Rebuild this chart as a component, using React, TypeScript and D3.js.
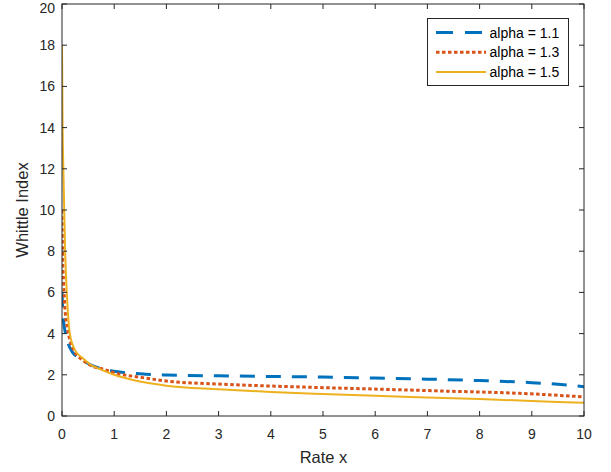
import React from "react";
import * as d3 from "d3";

const xTicks = [0, 1, 2, 3, 4, 5, 6, 7, 8, 9, 10];
const yTicks = [0, 2, 4, 6, 8, 10, 12, 14, 16, 18, 20];

const x11 = [0, 0.01, 0.03, 0.06, 0.12, 0.2, 0.35, 0.5, 0.66, 0.85, 1.07, 1.6, 2, 3, 4, 5, 6, 7, 8, 9, 9.5, 10];
const y11 = [6.0, 5.3, 4.6, 4.1, 3.5, 3.1, 2.8, 2.55, 2.37, 2.25, 2.15, 2.03, 1.99, 1.95, 1.92, 1.89, 1.84, 1.79, 1.72, 1.62, 1.54, 1.42];

const x13 = [0, 0.01, 0.03, 0.06, 0.1, 0.15, 0.25, 0.4, 0.6, 0.82, 1.0, 1.5, 2.07, 3, 4.43, 5.96, 7.18, 8.77, 10];
const y13 = [10, 8.0, 6.5, 5.1, 4.3, 3.7, 3.1, 2.7, 2.4, 2.25, 2.1, 1.88, 1.68, 1.55, 1.42, 1.31, 1.22, 1.1, 0.93];

const x15 = [0, 0.01, 0.03, 0.06, 0.1, 0.15, 0.25, 0.4, 0.54, 0.75, 1.0, 1.4, 2, 3, 4, 5, 6, 7, 8, 9, 10];
const y15 = [18, 14.5, 11.5, 8.0, 5.6, 4.0, 3.2, 2.8, 2.5, 2.25, 2.0, 1.72, 1.47, 1.3, 1.17, 1.07, 0.98, 0.9, 0.82, 0.73, 0.64];

const labels = ["alpha = 1.1", "alpha = 1.3", "alpha = 1.5"];
const colors = ["#0072BD", "#D95319", "#EDB120"];
const dashes = ["15,11", "3.5,2.5", ""];
const widths = [3, 3, 2];

const W = 611, H = 472;
const L = 62, R = 584, T = 4, B = 416;
const axisColor = "#262626";
const font = "'Liberation Sans', Arial, Helvetica, sans-serif";

export default function App() {
  const x = d3.scaleLinear().domain([0, 10]).range([L, R]);
  const y = d3.scaleLinear().domain([0, 20]).range([B, T]);
  const series = [
    x11.map((v, i) => [v, y11[i]] as [number, number]),
    x13.map((v, i) => [v, y13[i]] as [number, number]),
    x15.map((v, i) => [v, y15[i]] as [number, number]),
  ];
  const line = d3
    .line<[number, number]>()
    .x((d) => x(d[0]))
    .y((d) => y(d[1]))
    .curve(d3.curveMonotoneX);
  const tl = 5;
  const lgX = 427.5, lgY = 18.5, lgW = 141, lgH = 67;
  return (
    <svg
      width={W}
      height={H}
      style={{ position: "absolute", left: 0, top: 0, background: "#fff" }}
      fontFamily={font}
    >
      <rect x={0} y={0} width={W} height={H} fill="#fff" />
      <defs>
        <clipPath id="plot">
          <rect x={L} y={T} width={R - L} height={B - T} />
        </clipPath>
      </defs>
      <g clipPath="url(#plot)">
        {series.map((s, i) => (
          <path
            key={i}
            d={line(s) || ""}
            fill="none"
            stroke={colors[i]}
            strokeWidth={widths[i]}
            strokeDasharray={dashes[i] || undefined}
          />
        ))}
      </g>
      <rect x={L} y={T} width={R - L} height={B - T} fill="none" stroke={axisColor} strokeWidth={1} />
      {xTicks.map((t) => (
        <g key={"x" + t}>
          <line x1={x(t)} x2={x(t)} y1={B} y2={B - tl} stroke={axisColor} />
          <line x1={x(t)} x2={x(t)} y1={T} y2={T + tl} stroke={axisColor} />
          <text x={x(t)} y={439} textAnchor="middle" fontSize={14} fill={axisColor}>
            {t}
          </text>
        </g>
      ))}
      {yTicks.map((t) => (
        <g key={"y" + t}>
          <line x1={L} x2={L + tl} y1={y(t)} y2={y(t)} stroke={axisColor} />
          <line x1={R} x2={R - tl} y1={y(t)} y2={y(t)} stroke={axisColor} />
          <text x={L - 7} y={Math.max(y(t), 7.5)} dy="0.36em" textAnchor="end" fontSize={14} fill={axisColor}>
            {t}
          </text>
        </g>
      ))}
      <text x={(L + R) / 2 + 0.5} y={463} textAnchor="middle" fontSize={16.5} fill={axisColor}>
        Rate x
      </text>
      <text
        transform={`translate(${28},${(T + B) / 2}) rotate(-90)`}
        textAnchor="middle"
        fontSize={16.5}
        fill={axisColor}
      >
        Whittle Index
      </text>
      <rect x={lgX} y={lgY} width={lgW} height={lgH} fill="#fff" stroke={axisColor} strokeWidth={1} />
      {labels.map((lab, i) => {
        const ly = 32.5 + i * 19.7;
        return (
          <g key={lab}>
            <line
              x1={436}
              x2={486}
              y1={ly}
              y2={ly}
              stroke={colors[i]}
              strokeWidth={widths[i]}
              strokeDasharray={i === 0 ? "17,12" : dashes[i] || undefined}
            />
            <text x={489.5} y={ly} dy="0.36em" fontSize={14} fill="#000">
              {lab}
            </text>
          </g>
        );
      })}
    </svg>
  );
}
